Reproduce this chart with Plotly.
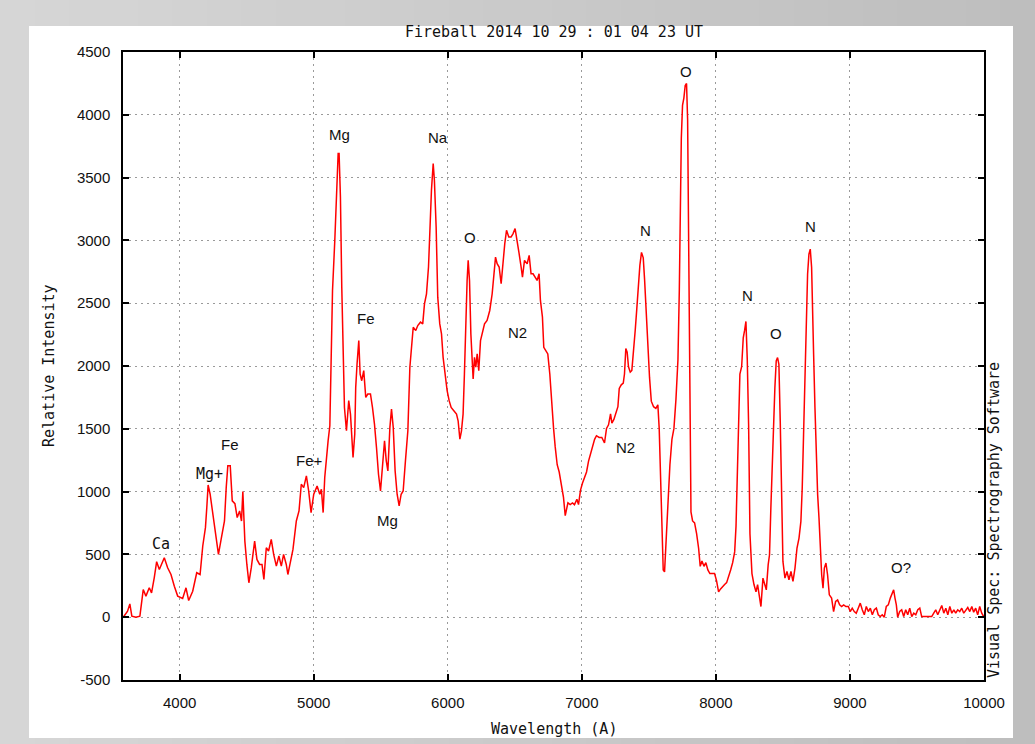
import plotly.graph_objects as go

# ---------------- data ----------------
wavelength = [
    3579, 3611, 3628, 3643, 3673, 3703, 3728, 3748, 3773, 3790, 3810, 3828, 3848, 3868, 3885, 3910,
    3935, 3960, 3985, 4022, 4047, 4067, 4097, 4127, 4152, 4172, 4192, 4202, 4212, 4227, 4247, 4272,
    4289, 4309, 4334, 4347, 4359, 4377, 4392, 4412, 4429, 4447, 4461, 4471, 4486, 4501, 4516, 4534,
    4559, 4576, 4596, 4614, 4628, 4646, 4663, 4683, 4701, 4721, 4740, 4758, 4775, 4795, 4807, 4825,
    4845, 4870, 4890, 4907, 4925, 4945, 4962, 4980, 5000, 5025, 5045, 5057, 5070, 5082, 5095, 5107,
    5120, 5132, 5140, 5157, 5170, 5182,
    5189, 5199, 5209, 5219, 5229, 5244, 5261, 5274, 5283, 5293, 5306, 5313, 5323, 5336, 5346, 5358,
    5373, 5388, 5403, 5423, 5438, 5453, 5468, 5483, 5498, 5513, 5528, 5541, 5553, 5568, 5580, 5593,
    5607, 5622, 5637, 5652, 5667, 5684, 5702, 5717, 5732, 5742, 5761, 5776, 5796, 5813, 5826, 5841,
    5856, 5866, 5878, 5891, 5900, 5913, 5925, 5940, 5953, 5965, 5980, 5995, 6010, 6025, 6045, 6065,
    6077, 6090, 6102, 6114, 6124, 6134, 6144, 6152, 6162, 6172, 6182, 6189, 6199, 6209, 6219, 6231,
    6244, 6259, 6274, 6293, 6313, 6331, 6343, 6356, 6368, 6383, 6398, 6413, 6425, 6438, 6455, 6472,
    6487, 6502, 6517, 6532, 6547, 6557, 6572, 6592, 6607, 6621, 6636, 6651, 6666, 6681, 6691, 6706,
    6716, 6731, 6746, 6761,
    6776, 6789, 6801, 6816, 6831, 6846, 6863, 6876, 6886, 6896, 6913, 6930, 6945, 6963, 6975, 6990,
    7005, 7020, 7035, 7050, 7065, 7080, 7095, 7109, 7129, 7149, 7169, 7184, 7199, 7214, 7224, 7239,
    7254, 7269, 7279, 7294, 7309, 7318, 7328, 7338, 7348, 7361, 7373, 7386, 7398, 7410, 7423, 7433,
    7445, 7458, 7468, 7480, 7493, 7505, 7518, 7535, 7552, 7567, 7577, 7587, 7597, 7607, 7617, 7627,
    7637, 7647, 7657, 7672, 7687, 7702, 7717, 7727, 7734, 7742, 7751, 7761, 7771, 7781, 7789, 7796,
    7804, 7814, 7826, 7841, 7856, 7871, 7883, 7896, 7911, 7925, 7940, 7955, 7970, 7990, 8005, 8020,
    8035, 8050, 8065, 8080, 8095, 8110, 8125, 8140, 8150, 8160, 8169, 8179, 8192, 8204, 8214, 8224,
    8234, 8244, 8254, 8269, 8284, 8299, 8311, 8324, 8336,
    8351, 8366, 8376, 8390, 8400, 8410, 8420, 8430, 8440, 8450, 8460, 8470, 8480, 8490, 8500, 8515,
    8530, 8545, 8560, 8575, 8590, 8605, 8620, 8634, 8644, 8654, 8664, 8674, 8684, 8694, 8704, 8714,
    8721, 8729, 8739, 8749, 8759, 8769, 8779, 8789, 8799, 8809, 8821, 8833, 8846, 8863, 8878, 8893,
    8908, 8923, 8938, 8953, 8970, 8988, 9002, 9017, 9032, 9047, 9062, 9077, 9092, 9107, 9122, 9137,
    9152, 9167, 9182, 9197, 9211, 9226, 9241, 9256, 9271, 9286, 9301, 9316, 9326, 9336, 9346, 9356,
    9371, 9386, 9401, 9416, 9431, 9446, 9461, 9476, 9491, 9506, 9521, 9535, 9555, 9575, 9595, 9610,
    9625, 9640, 9655, 9670, 9685, 9700, 9715, 9730, 9745, 9760, 9775, 9789, 9804, 9819, 9834, 9849,
    9864, 9879, 9894, 9909, 9923, 9938, 9953, 9968, 9983, 9998,
]

intensity = [
    0, 48, 106, 8, 0, 8, 220, 168, 234, 194, 314, 442, 380, 426, 473, 394,
    340, 247, 168, 149, 234, 133, 207, 354, 340, 567, 713, 872, 1053, 979, 819, 660,
    500, 620, 766, 1032, 1205, 1205, 926, 904, 793, 846, 766, 1000, 606, 420, 274, 394,
    606, 460, 420, 420, 300, 553, 527, 620, 500, 407, 487, 407, 500, 420, 340, 434,
    540, 766, 846, 1059, 1032, 1125, 1005, 833, 979, 1045, 979, 1019, 833, 1112, 1298, 1404,
    1524, 2043, 2601, 3000, 3399, 3692,
    3692, 3346, 2628, 1990, 1670, 1484, 1724, 1617, 1404, 1271, 1458, 1830, 2016, 2202, 1936, 1883,
    1963, 1750, 1777, 1777, 1670, 1537, 1351, 1138, 1005, 1245, 1404, 1245, 1165, 1511, 1657, 1511,
    1165, 979, 886, 979, 1005, 1245, 1484, 1990, 2229, 2309, 2282, 2322, 2349, 2335, 2495, 2575,
    2788, 3107, 3399, 3612, 3479, 3107, 2548, 2335, 2256, 2069, 1936, 1803, 1724, 1670, 1644, 1617,
    1564, 1418, 1484, 1617, 1936, 2442, 2681, 2841, 2681, 2256, 1990, 1896, 2069, 1990, 2096, 1963,
    2202, 2282, 2335, 2362, 2442, 2575, 2734, 2867, 2814, 2788, 2655, 2841, 2974, 3080, 3027, 3027,
    3054, 3094, 2974, 2894, 2788, 2708, 2841, 2814, 2881, 2734, 2734, 2708, 2681, 2734, 2522, 2389,
    2149, 2123, 2096, 1936,
    1676, 1503, 1358, 1214, 1156, 1069, 954, 809, 853, 910, 896, 910, 896, 939, 896, 1012,
    1069, 1113, 1156, 1243, 1300, 1358, 1416, 1445, 1431, 1431, 1387, 1503, 1532, 1618, 1546, 1575,
    1618, 1676, 1821, 1850, 1864, 1936, 2139, 2110, 1994, 1951, 1965, 2110, 2283, 2457, 2688, 2803,
    2904, 2861, 2688, 2428, 2139, 1907, 1720, 1676, 1662, 1691, 1503, 1098, 665, 376, 361, 578,
    809, 1012, 1214, 1416, 1503, 1734, 2052, 2601, 3323, 3815, 4075, 4133, 4234, 4249, 3959, 2919,
    1532, 838, 766, 751, 665, 549, 405, 448, 405, 434, 376, 347, 347, 347, 289, 202,
    225, 246, 260, 275, 318, 376, 434, 520, 723, 1098, 1532, 1936, 1994, 2225, 2283, 2355,
    2052, 1532, 665, 347, 260, 202, 260, 173, 85,
    311, 258, 218, 418, 497, 870, 1269, 1508, 1827, 2040, 2067, 2014, 1561, 843, 444, 311,
    364, 298, 364, 285, 391, 551, 630, 763, 1029, 1455, 1934, 2466, 2732, 2891, 2931, 2785,
    2546, 2093, 1668, 1295, 976, 790, 497, 338, 231, 391, 431, 338, 178, 152, 45, 125,
    138, 98, 85, 98, 85, 85, 45, 72, 45, 32, 72, 112, 59, 19, 85, 45,
    72, 19, 59, 72, 19, 5, 19, 0, 85, 98, 152, 192, 218, 152, 98, 0,
    45, 59, 5, 59, 19, 72, 5, 32, 19, 59, 72, 5, 5, 0, 5, 5,
    32, 59, 19, 59, 93, 32, 72, 19, 85, 32, 59, 32, 59, 45, 72, 32,
    59, 77, 45, 85, 40, 72, 19, 85, 32, 5,
]

line_labels = ["Ca", "Mg+", "Fe", "Fe+", "Mg", "Fe", "Mg", "Na", "O", "N2", "N2",
               "N", "O", "N", "O", "N", "O?"]
label_x = [3858, 4224, 4375, 4971, 5194, 5388, 5553, 5925, 6165, 6523, 7322,
           7477, 7780, 8232, 8450, 8704, 9378]
label_y = [583, 1140, 1379, 1245, 3846, 2382, 766, 3822, 3026, 2263, 1355,
           3080, 4345, 2562, 2256, 3110, 395]

x_ticks = [4000, 5000, 6000, 7000, 8000, 9000, 10000]
y_ticks = [-500, 0, 500, 1000, 1500, 2000, 2500, 3000, 3500, 4000, 4500]

title_text = "Fireball 2014 10 29 : 01 04 23 UT"
x_title = "Wavelength (A)"
y_title = "Relative Intensity"
credit_text = "Visual Spec: Spectrography Software"

# ---------------- figure ----------------
W, H = 1035, 744
ML, MR, MT, MB = 123, 51, 52, 64
PW, PH = W - ML - MR, H - MT - MB

def px_to_paper_x(px):
    return (px - ML) / PW

def px_to_paper_y(py):
    return (H - MB - py) / PH

mono = "DejaVu Sans Mono"
sans = "Liberation Sans"

fig = go.Figure()
fig.add_trace(go.Scatter(
    x=wavelength, y=intensity, mode="lines",
    line=dict(color="#ff0000", width=1.5),
    hoverinfo="x+y", showlegend=False,
))

# background gradient stripes and white panel
shapes = []
n = 30
for i in range(n):
    c0 = (214, 214, 214)
    c1 = (190, 190, 190)
    t = i / (n - 1)
    c = tuple(int(round(a + (b - a) * t)) for a, b in zip(c0, c1))
    shapes.append(dict(
        type="rect", xref="paper", yref="paper", layer="below",
        x0=px_to_paper_x(i * W / n), x1=px_to_paper_x((i + 1) * W / n + 1),
        y0=px_to_paper_y(H), y1=px_to_paper_y(0),
        fillcolor="rgb(%d,%d,%d)" % c, line=dict(width=0),
    ))
shapes.append(dict(
    type="rect", xref="paper", yref="paper", layer="below",
    x0=px_to_paper_x(29), x1=px_to_paper_x(1013),
    y0=px_to_paper_y(738), y1=px_to_paper_y(26),
    fillcolor="white", line=dict(width=0),
))

annotations = []
for lab, lx, ly in zip(line_labels, label_x, label_y):
    fam = mono if lab in ("Ca", "Mg+") else sans
    annotations.append(dict(
        x=lx, y=ly, xref="x", yref="y", text=lab, showarrow=False,
        font=dict(family=fam, size=15, color="#111111"),
        xanchor="center", yanchor="middle",
    ))

annotations.append(dict(
    x=0.5, y=1, xref="paper", yref="paper", text=title_text, showarrow=False,
    xanchor="center", yanchor="middle", yshift=20,
    font=dict(family=mono, size=15, color="#111111"),
))
annotations.append(dict(
    x=0.5, y=0, xref="paper", yref="paper", text=x_title, showarrow=False,
    xanchor="center", yanchor="middle", yshift=-49,
    font=dict(family=mono, size=15, color="#111111"),
))
annotations.append(dict(
    x=0, y=0.5, xref="paper", yref="paper", text=y_title, showarrow=False,
    xanchor="center", yanchor="middle", xshift=-74, textangle=-90,
    font=dict(family=mono, size=15, color="#111111"),
))
annotations.append(dict(
    x=1, y=0, xref="paper", yref="paper", text=credit_text, showarrow=False,
    xanchor="center", yanchor="bottom", xshift=10, textangle=-90,
    font=dict(family=mono, size=15, color="#111111"),
))

axis_common = dict(
    showline=True, linecolor="black", linewidth=1.5, mirror="ticks",
    ticks="inside", ticklen=6, tickwidth=1.5, tickcolor="black",
    showgrid=True, gridcolor="#9a9a9a", gridwidth=1, griddash="2px,4px",
    zeroline=False,
    tickfont=dict(family=sans, size=15, color="#111111"),
)

fig.update_layout(
    width=W, height=H,
    margin=dict(l=ML, r=MR, t=MT, b=MB, pad=0),
    paper_bgcolor="#c8c8c8",
    plot_bgcolor="white",
    shapes=shapes,
    annotations=annotations,
    xaxis=dict(range=[3577, 10000], tickvals=x_ticks,
               ticktext=[str(v) for v in x_ticks], ticklabelstandoff=8,
               **axis_common),
    yaxis=dict(range=[-500, 4500], tickvals=y_ticks,
               ticktext=[str(v) for v in y_ticks], ticklabelstandoff=8,
               **axis_common),
)

fig.write_html("out.html")
